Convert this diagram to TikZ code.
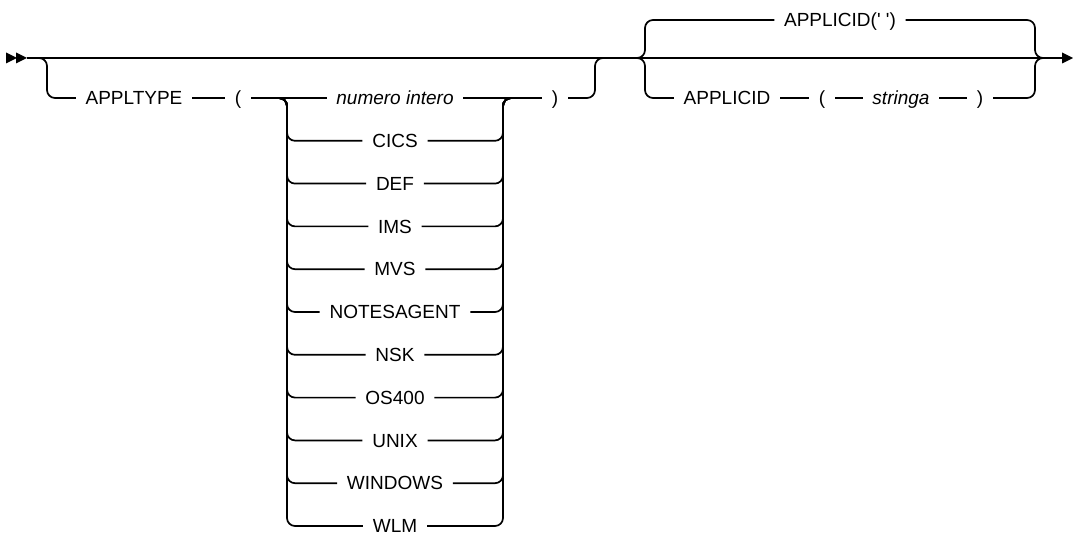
\documentclass[tikz,border=0pt]{standalone}
\usepackage{fontspec}
\newfontfamily\dfont{Liberation Sans}
\begin{document}
\begin{tikzpicture}[x=1pt,y=-1pt,line width=1.7pt,
  tok/.style={inner xsep=9pt,inner ysep=0pt,text height=13.5pt,text depth=0pt,font=\dfont\fontsize{19}{22}\selectfont},
  itok/.style={tok,font=\dfont\fontsize{19}{22}\selectfont\itshape},
  rc/.style={rounded corners=8pt},
  tip/.style={fill=black,draw=none}]
\useasboundingbox (0,0) rectangle (1073,537);
% main line
\coordinate (s) at (27,58);
\coordinate (e) at (1064,58);
\draw (s) -- (e);
\fill[tip] (6,52.5) -- (17,58) -- (6,63.5) -- cycle;
\fill[tip] (16,52.5) -- (27,58) -- (16,63.5) -- cycle;
\fill[tip] (1062,52.5) -- (1073,58) -- (1062,63.5) -- cycle;
% APPLTYPE branch
\node[tok] (appltype) at (134,98) {APPLTYPE};
\node[tok] (lp) at (238,98) {(};
\node[itok] (r0) at (395,98) {numero intero};
\foreach \lbl [count=\i] in {CICS,DEF,IMS,MVS,NOTESAGENT,NSK,OS400,UNIX,WINDOWS,WLM}{
  \node[tok] (r\i) at (395,{98+42.8*\i}) {\lbl};
}
\node[tok] (rp) at (555,98) {)};
\draw[rc] (38,58) -- (47,58) -- (47,98) -- (appltype.west);
\draw (appltype) -- (lp);
\draw (lp) -- (r0);
\draw (r0) -- (rp);
\foreach \i in {1,...,10}{
  \draw[rc] (lp.east) -- (287,98) |- (r\i.west);
  \draw[rc] (r\i.east) -| (503,98) -- (rp.west);
}
\draw[rc] (rp.east) -- (595,98) -- (595,58) -- (605,58);
% APPLICID choice
\node[tok] (def) at (840,20) {APPLICID(' ')};
\node[tok] (aid) at (727,98) {APPLICID};
\node[tok] (lp2) at (822,98) {(};
\node[itok] (str) at (901,98) {stringa};
\node[tok] (rp2) at (980,98) {)};
\draw[rc] (628,58) -- (645,58) -- (645,20) -- (def.west);
\draw[rc] (def.east) -- (1035,20) -- (1035,58) -- (1050,58);
\draw[rc] (628,58) -- (645,58) -- (645,98) -- (aid.west);
\draw (aid) -- (lp2);
\draw (lp2) -- (str);
\draw (str) -- (rp2);
\draw[rc] (rp2.east) -- (1035,98) -- (1035,58) -- (1050,58);
\end{tikzpicture}
\end{document}
